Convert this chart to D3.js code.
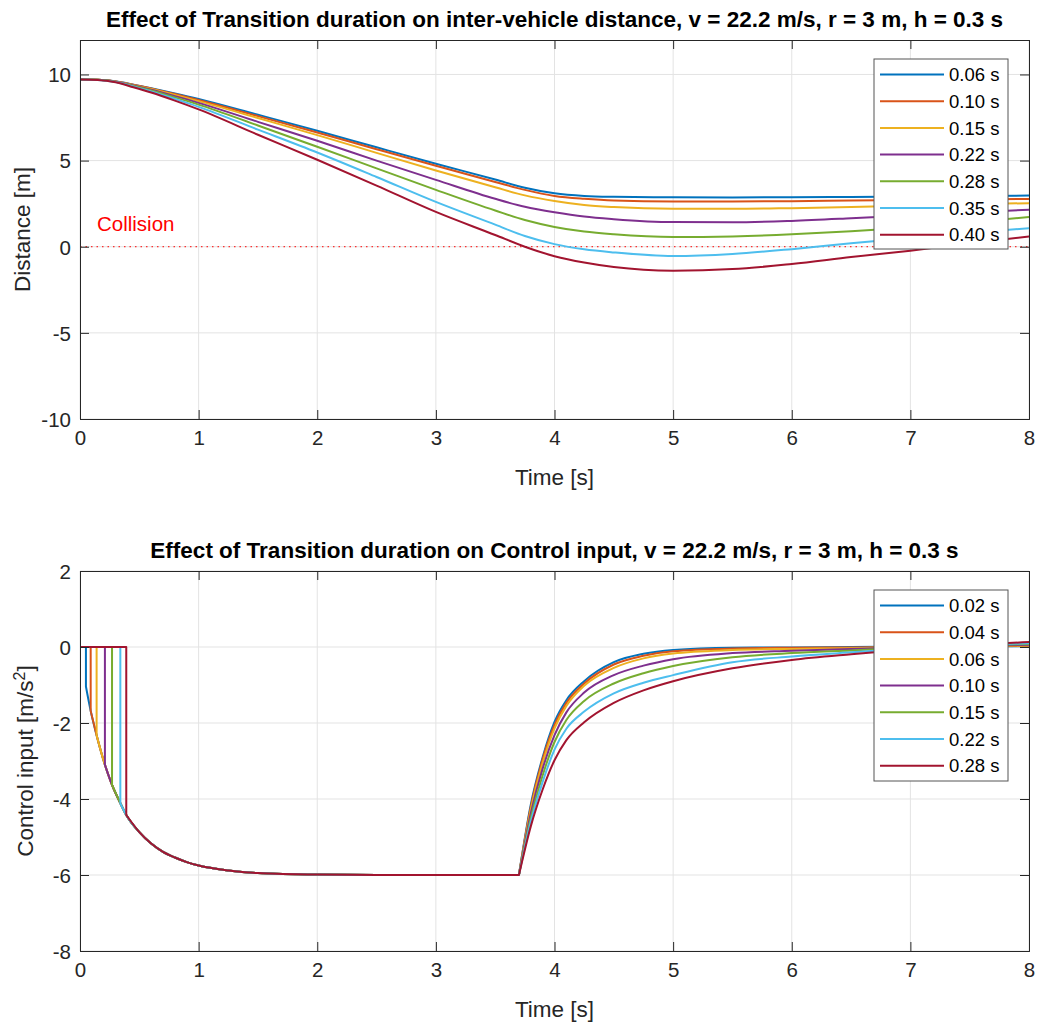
<!DOCTYPE html>
<html><head><meta charset="utf-8">
<script src="https://cdn.jsdelivr.net/npm/d3@7"></script>
<style>body{margin:0;background:#fff}svg{display:block;font-family:"Liberation Sans",Arial,Helvetica,sans-serif}</style>
</head><body><svg id="c" width="1038" height="1024"></svg>
<script>
// ---------- data ----------
const colors = ["#0072BD","#D95319","#EDB120","#7E2F8E","#77AC30","#4DBEEE","#A2142F"];
const topLabels = ["0.06 s","0.10 s","0.15 s","0.22 s","0.28 s","0.35 s","0.40 s"];
const botLabels = ["0.02 s","0.04 s","0.06 s","0.10 s","0.15 s","0.22 s","0.28 s"];
const xTicks = [0,1,2,3,4,5,6,7,8];
const topYTicks = [-10,-5,0,5,10];
const botYTicks = [-8,-6,-4,-2,0,2];

// top: distance [m]
const tTop = [0,0.15,0.3,0.45,0.6,0.8,1,1.5,2,2.5,3,3.5,3.75,4,4.25,4.5,5,5.5,6,6.5,7,7.5,8];
const dist006 = [9.7,9.69,9.6,9.41,9.2,8.9,8.58,7.66,6.73,5.77,4.82,3.9,3.42,3.1,2.95,2.9,2.87,2.86,2.87,2.89,2.91,2.94,2.97];
const dist010 = [9.7,9.69,9.59,9.4,9.18,8.86,8.52,7.58,6.63,5.66,4.7,3.76,3.3,2.95,2.78,2.68,2.63,2.63,2.64,2.68,2.71,2.74,2.77];
const dist015 = [9.7,9.69,9.59,9.38,9.15,8.81,8.45,7.47,6.48,5.45,4.42,3.45,2.98,2.65,2.42,2.3,2.2,2.2,2.24,2.3,2.38,2.46,2.53];
const dist022 = [9.7,9.69,9.58,9.36,9.11,8.74,8.35,7.25,6.15,5.0,3.88,2.78,2.32,2.0,1.75,1.6,1.43,1.42,1.5,1.65,1.82,1.99,2.15];
const dist028 = [9.7,9.69,9.57,9.33,9.07,8.67,8.25,7.04,5.8,4.55,3.3,2.1,1.55,1.15,0.88,0.72,0.56,0.6,0.72,0.9,1.12,1.4,1.72];
const dist035 = [9.7,9.68,9.56,9.3,9.02,8.58,8.12,6.8,5.47,4.05,2.6,1.28,0.62,0.15,-0.15,-0.33,-0.54,-0.42,-0.14,0.2,0.5,0.8,1.08];
const dist040 = [9.7,9.68,9.55,9.26,8.95,8.48,7.97,6.5,5.05,3.55,2.02,0.68,0.0,-0.55,-0.92,-1.18,-1.39,-1.3,-1.0,-0.6,-0.23,0.2,0.6];
const distSeries = [dist006,dist010,dist015,dist022,dist028,dist035,dist040];

// bottom: control input [m/s^2]
const dropTimes  = [0.05,0.09,0.14,0.21,0.27,0.34,0.39];
const dropValues = [-1.04,-1.68,-2.32,-3.1,-3.63,-4.11,-4.42];
const envT = [0.5,0.6,0.7,0.8,0.9,1.0,1.25,1.5,2,2.5,3,3.7];
const envU = [-4.87,-5.17,-5.39,-5.54,-5.66,-5.75,-5.88,-5.95,-5.99,-6,-6,-6];
const riseT = [3.7,3.8,3.9,4.0,4.1,4.25,4.5,4.75,5,5.5,6,6.5,7,7.5,8];
const rise1 = [-6,-4.15,-2.9,-1.97,-1.4,-0.9,-0.4,-0.18,-0.08,-0.02,-0.01,0,0.01,0.01,0.02];
const rise2 = [-6,-4.2,-2.95,-2.05,-1.47,-0.96,-0.46,-0.23,-0.11,-0.04,-0.02,-0.01,0,0.02,0.03];
const rise3 = [-6,-4.28,-3.05,-2.14,-1.55,-1.02,-0.55,-0.3,-0.17,-0.08,-0.05,-0.03,0,0.02,0.04];
const rise4 = [-6,-4.38,-3.2,-2.32,-1.72,-1.2,-0.74,-0.49,-0.32,-0.16,-0.1,-0.05,-0.01,0.03,0.06];
const rise5 = [-6,-4.5,-3.38,-2.5,-1.92,-1.42,-0.96,-0.69,-0.5,-0.27,-0.16,-0.09,-0.02,0.04,0.08];
const rise6 = [-6,-4.6,-3.55,-2.7,-2.15,-1.7,-1.22,-0.94,-0.74,-0.4,-0.25,-0.14,-0.04,0.04,0.1];
const rise7 = [-6,-4.72,-3.75,-2.98,-2.45,-1.98,-1.47,-1.14,-0.9,-0.56,-0.34,-0.19,-0.06,0.05,0.13];
const riseSeries = [rise1,rise2,rise3,rise4,rise5,rise6,rise7];

// ---------- drawing ----------
const svg = d3.select("#c");
const axColor = "#262626";
const F = 20.5;
const fmt = d => String(d);

function panel(opts){
  const {x0,x1,y0,y1,yDomain,yTicks,title,ylabel,series,labels,legendBox} = opts;
  const x = d3.scaleLinear().domain([0,8]).range([x0,x1]);
  const y = d3.scaleLinear().domain(yDomain).range([y1,y0]);
  const g = svg.append("g");
  const clipId = "clip"+Math.round(y0);
  svg.append("clipPath").attr("id",clipId).append("rect")
     .attr("x",x0).attr("y",y0).attr("width",x1-x0).attr("height",y1-y0);
  // grid
  g.append("g").selectAll("line").data(xTicks).join("line")
    .attr("x1",d=>x(d)).attr("x2",d=>x(d)).attr("y1",y0).attr("y2",y1)
    .attr("stroke","#e3e3e3").attr("stroke-width",1);
  g.append("g").selectAll("line").data(yTicks).join("line")
    .attr("y1",d=>y(d)).attr("y2",d=>y(d)).attr("x1",x0).attr("x2",x1)
    .attr("stroke","#e3e3e3").attr("stroke-width",1);
  if (opts.extra) opts.extra(g,x,y);
  // lines: each series is a list of segments, each segment [points, curve]
  const mk = c => d3.line().x(d=>x(d[0])).y(d=>y(d[1])).curve(c);
  g.append("g").attr("clip-path",`url(#${clipId})`).selectAll("path").data(series).join("path")
    .attr("d",segs=>segs.map(s=>mk(s[1])(s[0])).join(""))
    .attr("fill","none")
    .attr("stroke",(d,i)=>colors[i]).attr("stroke-width",2)
    .attr("stroke-linejoin","round").attr("stroke-linecap","round");
  // axes
  const xb = d3.axisBottom(x).tickValues(xTicks).tickSize(-9).tickPadding(20).tickFormat(fmt);
  const xt = d3.axisTop(x).tickValues(xTicks).tickSize(-9).tickFormat("");
  const yl = d3.axisLeft(y).tickValues(yTicks).tickSize(-9).tickPadding(18).tickFormat(fmt);
  const yr = d3.axisRight(y).tickValues(yTicks).tickSize(-9).tickFormat("");
  const style = sel=>{
    sel.selectAll("path.domain").attr("stroke",axColor).attr("stroke-width",1);
    sel.selectAll(".tick line").attr("stroke",axColor).attr("stroke-width",1);
    sel.selectAll(".tick text").attr("fill",axColor).attr("font-size",F)
       .attr("font-family",'"Liberation Sans",Arial,sans-serif');
  };
  g.append("g").attr("transform",`translate(0,${y1})`).call(xb).call(style)
    .selectAll(".tick text").attr("dy","0.71em").attr("y",11);
  g.append("g").attr("transform",`translate(0,${y0})`).call(xt).call(style);
  g.append("g").attr("transform",`translate(${x0},0)`).call(yl).call(style)
    .selectAll(".tick text").attr("x",-9).attr("dy","0.36em");
  g.append("g").attr("transform",`translate(${x1},0)`).call(yr).call(style);
  // title
  g.append("text").attr("x",(x0+x1)/2).attr("y",y0-13).attr("text-anchor","middle")
    .attr("font-weight","bold").attr("font-size",22.5).attr("fill","#000").text(title);
  // x label
  g.append("text").attr("x",(x0+x1)/2).attr("y",y1+66).attr("text-anchor","middle")
    .attr("font-size",22.5).attr("fill",axColor).text("Time [s]");
  // y label
  const yt = g.append("text").attr("transform",`translate(${opts.ylabelX},${(y0+y1)/2}) rotate(-90)`)
    .attr("text-anchor","middle").attr("font-size",22.5).attr("fill",axColor);
  ylabel(yt);
  // legend
  const lg = g.append("g");
  lg.append("rect").attr("x",legendBox[0]).attr("y",legendBox[1])
    .attr("width",legendBox[2]).attr("height",legendBox[3])
    .attr("fill","#fff").attr("stroke","#555").attr("stroke-width",1);
  labels.forEach((lab,i)=>{
    const cy = legendBox[1]+15.5+i*26.7;
    lg.append("line").attr("x1",legendBox[0]+6).attr("x2",legendBox[0]+70)
      .attr("y1",cy).attr("y2",cy).attr("stroke",colors[i]).attr("stroke-width",2);
    lg.append("text").attr("x",legendBox[0]+75).attr("y",cy).attr("dy","0.36em")
      .attr("font-size",18.5).attr("fill","#000").text(lab);
  });
}

// top panel
const topData = distSeries.map(s=>[[s.map((v,i)=>[tTop[i],v]), d3.curveMonotoneX]]);
panel({x0:80,x1:1029,y0:40,y1:419,yDomain:[-10,12],yTicks:topYTicks,
  title:"Effect of Transition duration on inter-vehicle distance, v = 22.2 m/s, r = 3 m, h = 0.3 s",
  ylabelX:30,
  ylabel:t=>t.text("Distance [m]"),
  series:topData,labels:topLabels,legendBox:[874,59,134,190],
  extra:(g,x,y)=>{
    g.append("line").attr("x1",x(0)).attr("x2",x(8)).attr("y1",y(0)).attr("y2",y(0))
      .attr("stroke","#ff0000").attr("stroke-width",1).attr("stroke-dasharray","1.5,4");
    g.append("text").attr("x",97).attr("y",231).attr("font-size",F).attr("fill","#ff0000").text("Collision");
  }});

// bottom panel
const botData = riseSeries.map((r,i)=>{
  const flat = [[0,0],[dropTimes[i],0],[dropTimes[i],dropValues[i]]];
  const env = [[dropTimes[i],dropValues[i]]];
  dropTimes.forEach((t,j)=>{ if (t>dropTimes[i]) env.push([t,dropValues[j]]); });
  envT.forEach((t,j)=>env.push([t,envU[j]]));
  const rise = riseT.map((t,j)=>[t,r[j]]);
  return [[flat,d3.curveLinear],[env,d3.curveMonotoneX],[rise,d3.curveMonotoneX]];
});
panel({x0:80,x1:1029,y0:571,y1:951,yDomain:[-8,2],yTicks:botYTicks,
  title:"Effect of Transition duration on Control input, v = 22.2 m/s, r = 3 m, h = 0.3 s",
  ylabelX:33,
  ylabel:t=>{ t.append("tspan").text("Control input [m/s");
              t.append("tspan").attr("baseline-shift","super").attr("font-size",16).text("2");
              t.append("tspan").text("]"); },
  series:botData,labels:botLabels,legendBox:[874,590,134,191]});
</script></body></html>
